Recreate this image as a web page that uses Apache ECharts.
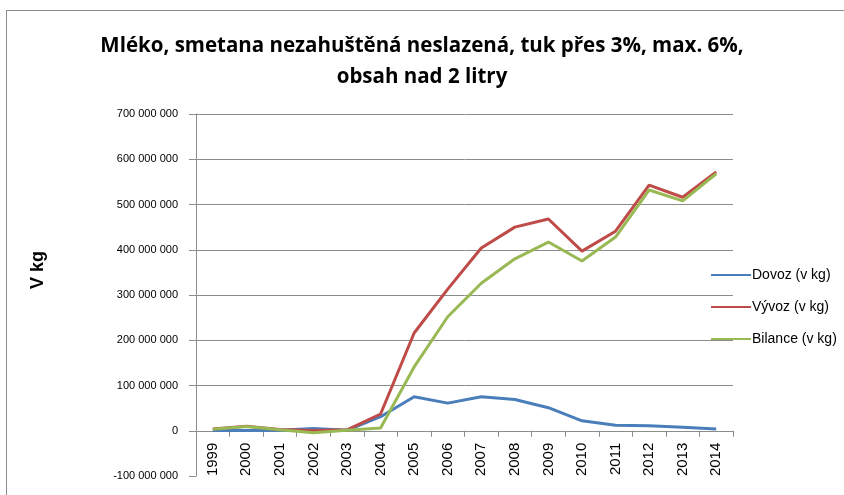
<!DOCTYPE html>
<html>
<head>
<meta charset="utf-8">
<script src="https://cdn.jsdelivr.net/npm/echarts@6/dist/echarts.min.js"></script>
<style>
  html, body { margin: 0; padding: 0; background: #fff; }
  #frame {
    position: absolute; left: 6px; top: 10px; width: 850px; height: 500px;
    border: 1px solid #8c8c8c; box-sizing: border-box;
  }
  #chart { width: 844px; height: 495px; position: absolute; left: 0; top: 0; }
</style>
</head>
<body>
<div id="frame"></div>
<div id="chart"></div>
<script>
// roky
const years = ['1999', '2000', '2001', '2002', '2003', '2004', '2005', '2006',
  '2007', '2008', '2009', '2010', '2011', '2012', '2013', '2014'];

// hodnoty v kg
const dovoz = [500000, 500000, 1000000, 5000000, 1000000, 31000000, 75000000, 61000000,
  75000000, 69000000, 51000000, 22000000, 12000000, 11000000, 8000000, 4000000];
const vyvoz = [4000000, 10000000, 3000000, 500000, 2000000, 37000000, 216000000, 313000000,
  404000000, 450000000, 468000000, 397000000, 441000000, 543000000, 516000000, 572000000];
const bilance = [3500000, 9500000, 2000000, -4500000, 1000000, 6000000, 141000000, 252000000,
  326000000, 380000000, 417000000, 375000000, 428000000, 532000000, 508000000, 568000000];

const seriesNames = ['Dovoz (v kg)', 'Vývoz (v kg)', 'Bilance (v kg)'];
const colors = ['#4a7ebb', '#be4b48', '#98b954'];

// osa y
const yMin = -100000000;
const yMax = 700000000;
const yStep = 100000000;

function fmt(v) {
  return String(v).replace(/\B(?=(\d{3})+(?!\d))/g, ' ');
}

const chart = echarts.init(document.getElementById('chart'));

// spodní mřížka (-100 mil.) se nekreslí
const gridColors = ['rgba(0,0,0,0)'];
for (let i = 0; i < 8; i++) gridColors.push('#8c8c8c');

const gridTop = 114;
const gridBottom = 19;
const plotH = 495 - gridTop - gridBottom;
// osa x leží na nule -> posun o jeden krok nahoru
const zeroOffset = -plotH * (0 - yMin) / (yMax - yMin);

const option = {
  animation: false,
  textStyle: { fontFamily: 'Liberation Sans' },
  title: {
    text: 'Mléko, smetana nezahuštěná neslazená, tuk přes 3%, max. 6%,\nobsah nad 2 litry',
    left: 'center',
    top: 26,
    textStyle: {
      fontFamily: 'Open Sans',
      fontSize: 20.5,
      fontWeight: 'bold',
      color: '#000',
      lineHeight: 31
    }
  },
  legend: {
    orient: 'vertical',
    left: 706,
    top: 263,
    itemGap: 18,
    itemWidth: 40,
    itemHeight: 20,
    icon: 'path://M0,9 L40,9 L40,11 L0,11 Z',
    textStyle: { fontFamily: 'Liberation Sans', fontSize: 14, color: '#000', padding: [0, 0, 0, -4], height: 20 },
    data: seriesNames
  },
  graphic: [{
    type: 'text',
    x: 38,
    y: 270,
    rotation: Math.PI / 2,
    style: {
      text: 'V kg',
      font: 'bold 18px "Liberation Sans"',
      fill: '#000',
      align: 'center',
      verticalAlign: 'middle'
    }
  }],
  grid: { left: 196, right: 111, top: gridTop, bottom: gridBottom, containLabel: false, outerBoundsMode: 'none' },
  xAxis: {
    type: 'category',
    data: years,
    boundaryGap: true,
    offset: zeroOffset,
    axisLine: { onZero: false, lineStyle: { color: '#8c8c8c', width: 1 } },
    axisTick: { show: true, length: 6, inside: false, lineStyle: { color: '#8c8c8c' } },
    axisLabel: { rotate: 90, margin: 12, fontSize: 15, color: '#000', fontFamily: 'Liberation Sans' },
    splitLine: { show: false }
  },
  yAxis: {
    type: 'value',
    min: yMin,
    max: yMax,
    interval: yStep,
    axisLine: { show: true, lineStyle: { color: '#8c8c8c' } },
    axisTick: { show: true, length: 7, lineStyle: { color: '#8c8c8c' } },
    axisLabel: { margin: 18, fontSize: 11, color: '#000', formatter: fmt },
    splitLine: { show: true, lineStyle: { color: gridColors, width: 1 } }
  },
  series: [
    { name: seriesNames[0], type: 'line', data: dovoz, z: 2 },
    { name: seriesNames[1], type: 'line', data: vyvoz, z: 3 },
    { name: seriesNames[2], type: 'line', data: bilance, z: 4 }
  ].map((s, i) => Object.assign(s, {
    color: colors[i],
    symbol: 'none',
    smooth: false,
    lineStyle: { width: 3, color: colors[i] }
  }))
};

chart.setOption(option);
</script>
</body>
</html>
